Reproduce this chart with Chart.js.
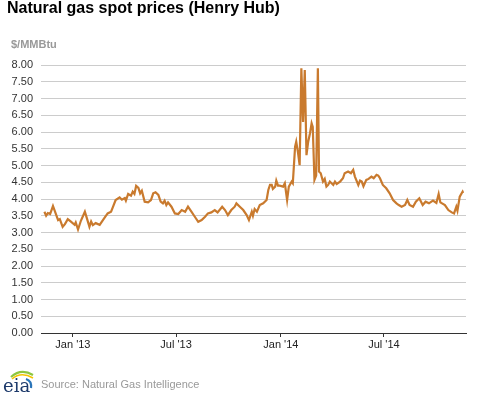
<!DOCTYPE html>
<html>
<head>
<meta charset="utf-8">
<script src="https://cdn.jsdelivr.net/npm/chart.js@4.4.1/dist/chart.umd.min.js"></script>
<style>
  html, body { margin: 0; padding: 0; background: #fff; }
  #wrap { position: relative; width: 477px; height: 393px; overflow: hidden; font-family: Arial, 'Liberation Sans', sans-serif; }
  #chart { position: absolute; left: 0; top: 0; }
  .title { position: absolute; left: 7px; top: -2px; font-size: 16px; line-height: 19px; font-weight: bold; color: #000; white-space: nowrap; }
  .unit { position: absolute; left: 11px; top: 38px; font-size: 11px; line-height: 13px; font-weight: bold; color: #999; }
  .source { position: absolute; left: 41px; top: 378px; font-size: 11px; line-height: 13px; color: #999; }
  .logo { position: absolute; left: 1px; top: 366px; }
</style>
</head>
<body>
<div id="wrap">
  <canvas id="chart" width="477" height="393"></canvas>
  <div class="title">Natural gas spot prices (Henry Hub)</div>
  <div class="unit">$/MMBtu</div>
  <svg class="logo" width="36" height="27" viewBox="0 0 36 27">
    <path d="M10 11 Q20 2 32 9" stroke="#8dc63f" stroke-width="2.2" fill="none"/>
    <path d="M11 13 Q20 5 32 12" stroke="#f5c400" stroke-width="1.6" fill="none"/>
    <path d="M25 13 Q31 15 30 22" stroke="#2a74b8" stroke-width="2.2" fill="none"/>
    <text x="2" y="26" font-family="'DejaVu Serif', 'Liberation Serif', serif" font-size="18" fill="#1d3a6b">eia</text>
  </svg>
  <div class="source">Source: Natural Gas Intelligence</div>
</div>
<script>
// days since 2013-01-01 and Henry Hub spot price ($/MMBtu)
const days = [
  -50, -47, -44, -40, -35, -32, -26, -23, -18, -14, -9, -4, 3, 5, 9, 14, 21, 25, 29, 32,
  35, 40, 47, 53, 56, 61, 67, 70, 75, 82, 86, 91, 93, 97, 102, 105, 108, 111, 115, 118,
  121, 126, 132, 137, 141, 145, 150, 154, 158, 161, 164, 167, 173, 179, 185, 191, 197, 202, 208, 214,
  220, 226, 232, 237, 243, 249, 254, 262, 267, 272, 278, 284, 287, 293, 299, 305, 309, 314, 316, 319,
  323, 328, 334, 340, 343, 346, 349, 351, 355, 357, 360, 363, 369, 372, 376, 379, 384, 386, 390, 392,
  395, 398, 401, 404, 407, 410, 413, 416, 419, 421, 424, 427, 430, 432, 435, 439, 442, 445, 448, 451,
  457, 460, 463, 469, 474, 477, 483, 488, 492, 495, 501, 504, 507, 510, 515, 519, 524, 528, 533, 536,
  539, 544, 550, 556, 562, 568, 572, 577, 583, 587, 591, 597, 602, 608, 614, 619, 625, 632, 638, 642,
  645, 653, 659, 665, 669, 673, 675, 679, 684, 685
];
const prices = [
  3.62, 3.50, 3.58, 3.55, 3.79, 3.65, 3.37, 3.40, 3.17, 3.25, 3.40, 3.33, 3.23, 3.30, 3.09, 3.35, 3.62, 3.40, 3.17, 3.33,
  3.22, 3.28, 3.23, 3.38, 3.45, 3.57, 3.62, 3.75, 3.97, 4.05, 3.98, 4.03, 3.95, 4.15, 4.10, 4.22, 4.15, 4.39, 4.33, 4.17,
  4.25, 3.92, 3.90, 3.97, 4.17, 4.20, 4.12, 3.92, 3.87, 3.95, 3.82, 3.90, 3.77, 3.57, 3.55, 3.67, 3.62, 3.77, 3.62, 3.47,
  3.32, 3.37, 3.47, 3.57, 3.60, 3.67, 3.60, 3.77, 3.67, 3.52, 3.67, 3.77, 3.87, 3.77, 3.67, 3.52, 3.37, 3.62, 3.50, 3.70,
  3.62, 3.82, 3.87, 3.97, 4.27, 4.42, 4.42, 4.30, 4.37, 4.55, 4.40, 4.40, 4.37, 4.47, 3.97, 4.37, 4.52, 4.47, 5.56, 5.71,
  5.40, 5.01, 7.90, 6.30, 7.85, 5.31, 5.71, 5.95, 6.26, 6.15, 4.57, 4.70, 7.90, 4.82, 4.77, 4.52, 4.60, 4.37, 4.42, 4.52,
  4.42, 4.52, 4.45, 4.52, 4.62, 4.77, 4.82, 4.77, 4.87, 4.67, 4.42, 4.55, 4.52, 4.38, 4.57, 4.60, 4.67, 4.62, 4.72, 4.70,
  4.62, 4.42, 4.32, 4.17, 3.97, 3.87, 3.82, 3.77, 3.82, 3.97, 3.82, 3.77, 3.92, 4.02, 3.82, 3.92, 3.87, 3.95, 3.88, 4.15,
  3.90, 3.82, 3.67, 3.60, 3.57, 3.77, 3.65, 4.07, 4.22, 4.18
];
const tickDays = [0, 181, 365, 546];
const tickLabels = ["Jan '13", "Jul '13", "Jan '14", "Jul '14"];

const FONT = "Arial, 'Liberation Sans', sans-serif";

new Chart(document.getElementById('chart'), {
    type: 'line',
    data: {
        datasets: [{
            data: days.map((d, i) => ({ x: d, y: prices[i] })),
            borderColor: '#c97a2e',
            borderWidth: 2.2,
            pointRadius: 0,
            tension: 0,
            fill: false
        }]
    },
    options: {
        responsive: false,
        animation: false,
        layout: { padding: { top: 65, right: 11, bottom: 30, left: 0 } },
        plugins: {
            legend: { display: false },
            tooltip: { enabled: false }
        },
        scales: {
            x: {
                type: 'linear',
                min: -56,
                max: 690,
                afterFit: scale => { scale.height = 30; },
                afterBuildTicks: scale => {
                    scale.ticks = tickDays.map(v => ({ value: v }));
                },
                ticks: {
                    autoSkip: false,
                    maxRotation: 0,
                    padding: 1,
                    color: '#222',
                    font: { family: FONT, size: 11 },
                    callback: value => tickLabels[tickDays.indexOf(value)]
                },
                grid: { drawOnChartArea: false, tickLength: 4, color: '#333' },
                border: { color: '#333', width: 1 }
            },
            y: {
                min: 0,
                max: 8,
                afterFit: scale => { scale.width = 41; },
                ticks: {
                    stepSize: 0.5,
                    padding: 8,
                    color: '#333',
                    font: { family: FONT, size: 11 },
                    callback: v => v.toFixed(2)
                },
                grid: { drawTicks: false, color: '#cccccc', lineWidth: 1 },
                border: { display: false }
            }
        }
    }
});
</script>
</body>
</html>
